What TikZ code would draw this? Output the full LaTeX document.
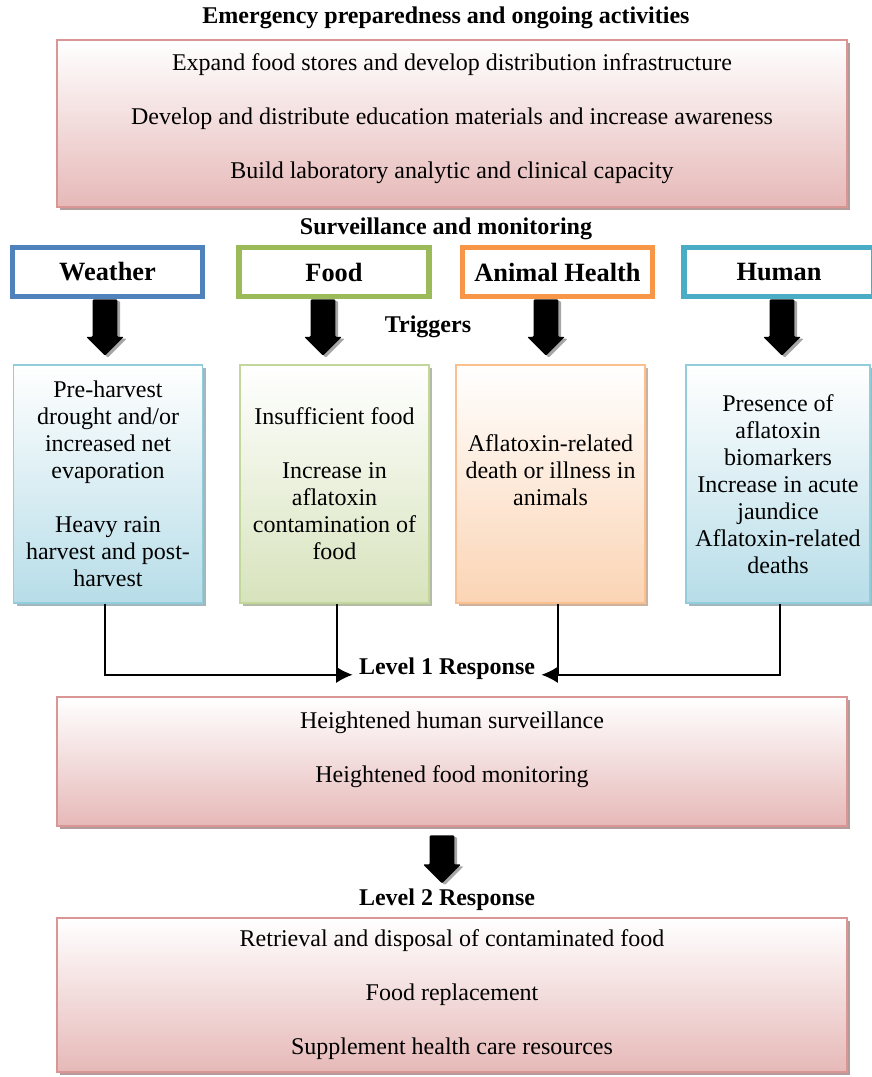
\documentclass[tikz,border=0pt]{standalone}
\usepackage{fontspec}
\setmainfont{Liberation Serif}
\usetikzlibrary{shapes.arrows,shadows,arrows.meta}

\definecolor{pinkline}{HTML}{D99694}
\definecolor{pinkfill}{HTML}{E6B9B8}
\definecolor{pinkshadow}{HTML}{B39C9B}
\definecolor{wline}{HTML}{4F81BD}
\definecolor{fline}{HTML}{9BBB59}
\definecolor{aline}{HTML}{F79646}
\definecolor{hline}{HTML}{4BACC6}
\definecolor{bluebox}{HTML}{92CDDC}
\definecolor{bluefill}{HTML}{B7DDE8}
\definecolor{greenbox}{HTML}{C3D69B}
\definecolor{greenfill}{HTML}{D7E3BC}
\definecolor{orangebox}{HTML}{FAC090}
\definecolor{orangefill}{HTML}{FBD4B4}

\begin{document}
\begin{tikzpicture}[
	x=0.55pt, y=-0.55pt,
	font=\fontsize{13.2}{14.85}\selectfont,
	title/.style = {font=\fontsize{13.2}{15}\selectfont\bfseries},
	pinkbox/.style = {draw=pinkline, line width=1.2pt, top color=white, bottom color=pinkfill,
		minimum width=434.5pt, align=center,
		drop shadow={shadow xshift=1.8pt, shadow yshift=-1.8pt, fill=pinkshadow, opacity=1}},
	head/.style = {draw=#1, line width=2.8pt, fill=white, minimum width=104.5pt, minimum height=27pt,
		font=\fontsize{14.5}{17}\selectfont\bfseries},
	trig/.style 2 args = {draw=#1, line width=0.9pt, top color=white, bottom color=#2,
		minimum width=104pt, minimum height=131pt, align=center,
		drop shadow={shadow xshift=1.8pt, shadow yshift=-1.8pt, fill=#2!60!gray, opacity=1}},
	bigarrow/.style = {single arrow, shape border rotate=270, anchor=tail, fill=black, inner sep=6.6pt,
		single arrow head extend=3.6pt, rounded corners=0.6pt,
		drop shadow={shadow xshift=1.5pt, shadow yshift=-1pt, fill=gray!70, opacity=1}},
	conn/.style = {line width=0.8pt},
	]
	\useasboundingbox (0,0) rectangle (872,1077);

	% preparedness
	\node[title] (prep) at (446,18) {Emergency preparedness and ongoing activities};
	\node[pinkbox, minimum height=91.85pt] (pbox) at (452,123.5)
		{Expand food stores and develop distribution infrastructure\\[14.85pt]
		 Develop and distribute education materials and increase awareness\\[14.85pt]
		 Build laboratory analytic and clinical capacity\\[-7pt] \mbox{}};

	% surveillance
	\node[title] (surv) at (446,229) {Surveillance and monitoring};
	\node[head=wline] (w) at (107.5,272) {Weather};
	\node[head=fline] (f) at (334,272) {Food};
	\node[head=aline] (a) at (557.5,272) {Animal Health};
	\node[head=hline] (h) at (779,272) {Human};

	\node[bigarrow, minimum height=31pt] (arw) at (105,299) {};
	\node[bigarrow, minimum height=31pt] (arf) at (323,299) {};
	\node[bigarrow, minimum height=31pt] (ara) at (546,299) {};
	\node[bigarrow, minimum height=31pt] (arh) at (782,299) {};
	\node[title] (trig) at (428,327) {Triggers};

	% triggers
	\node[trig={bluebox}{bluefill}] (tw) at (108,484)
		{Pre-harvest\\ drought and/or\\ increased net\\ evaporation\\[14.85pt]
		 Heavy rain\\ harvest and post-\\ harvest};
	\node[trig={greenbox}{greenfill}] (tf) at (334.5,484)
		{Insufficient food\\[14.85pt] Increase in\\ aflatoxin\\ contamination of\\ food};
	\node[trig={orangebox}{orangefill}] (ta) at (550.5,484)
		{Aflatoxin-related\\ death or illness in\\ animals\\ \mbox{}};
	\node[trig={bluebox}{bluefill}, minimum width=101pt] (th) at (778,484)
		{Presence of\\ aflatoxin\\ biomarkers\\ Increase in acute\\ jaundice\\
		 Aflatoxin-related\\ deaths};

	% level 1
	\node[title] (l1) at (447,669) {Level 1 Response};
	\draw[conn, -{Latex[length=9pt,width=9pt]}] (tw.south -| arw.tail) |- (l1.base west);
	\draw[conn] (tf.south -| 337,0) -- (337,676);
	\draw[conn] (ta.south -| 558,0) -- (558,676);
	\draw[conn, -{Latex[length=9pt,width=9pt]}] (th.south -| 780,0) |- (l1.base east);
	\node[pinkbox, minimum height=71pt] (l1box) at (452,761.5)
		{Heightened human surveillance\\[14.85pt] Heightened food monitoring\\[1pt] \mbox{}};

	% level 2
	\node[bigarrow, minimum height=26.4pt] (ar2) at (442,835) {};
	\node[title] (l2) at (447,900) {Level 2 Response};
	\node[pinkbox, minimum height=84.7pt] (l2box) at (452,995)
		{Retrieval and disposal of contaminated food\\[14.85pt] Food replacement\\[14.85pt]
		 Supplement health care resources};
\end{tikzpicture}
\end{document}
